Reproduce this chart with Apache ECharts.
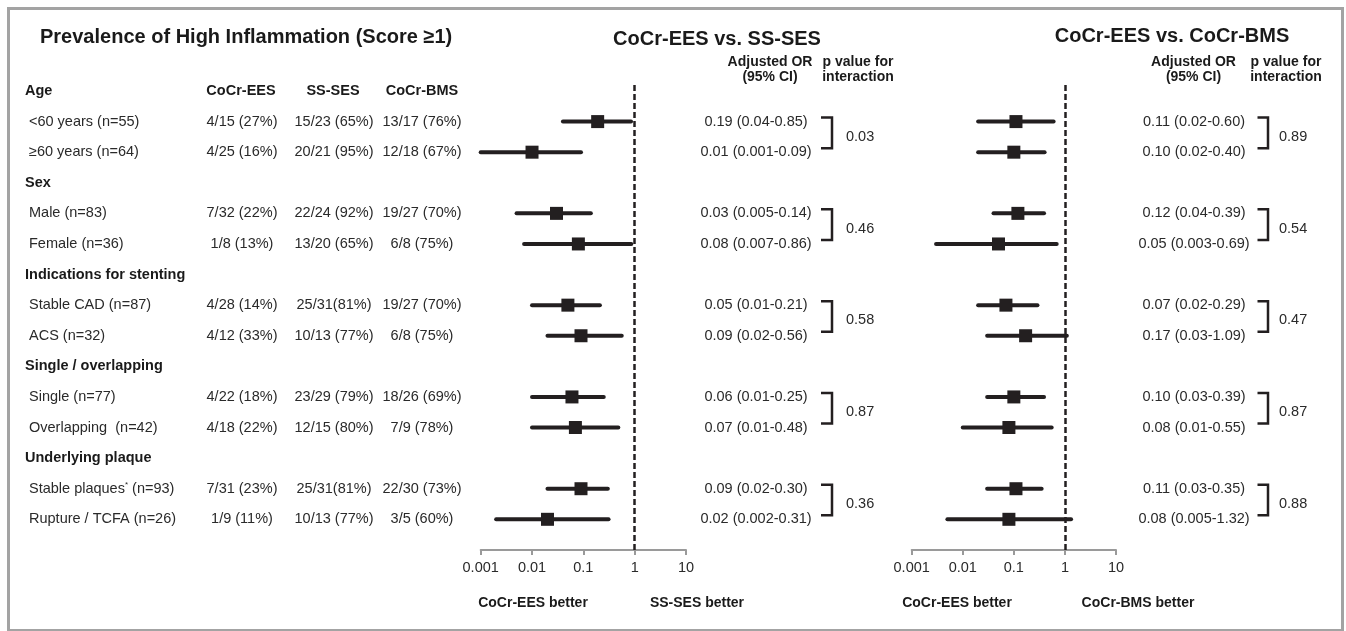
<!DOCTYPE html>
<html><head><meta charset="utf-8">
<script src="https://cdn.jsdelivr.net/npm/echarts@6/dist/echarts.min.js"></script>
<style>html,body{margin:0;padding:0;background:#fff}#c{width:1346px;height:631px}</style>
</head><body><div id="c"></div>
<script>
// ---------- data ----------
const groupHeaders = ['Age', 'Sex', 'Indications for stenting', 'Single / overlapping', 'Underlying plaque'];
const subgroups = ['<60 years (n=55)', '≥60 years (n=64)', 'Male (n=83)', 'Female (n=36)', 'Stable CAD (n=87)', 'ACS (n=32)', 'Single (n=77)', 'Overlapping  (n=42)', 'Stable plaques* (n=93)', 'Rupture / TCFA (n=26)'];
const columnHeaders = ['CoCr-EES', 'SS-SES', 'CoCr-BMS'];
const eesCounts = ['4/15 (27%)', '4/25 (16%)', '7/32 (22%)', '1/8 (13%)', '4/28 (14%)', '4/12 (33%)', '4/22 (18%)', '4/18 (22%)', '7/31 (23%)', '1/9 (11%)'];
const sesCounts = ['15/23 (65%)', '20/21 (95%)', '22/24 (92%)', '13/20 (65%)', '25/31(81%)', '10/13 (77%)', '23/29 (79%)', '12/15 (80%)', '25/31(81%)', '10/13 (77%)'];
const bmsCounts = ['13/17 (76%)', '12/18 (67%)', '19/27 (70%)', '6/8 (75%)', '19/27 (70%)', '6/8 (75%)', '18/26 (69%)', '7/9 (78%)', '22/30 (73%)', '3/5 (60%)'];

// CoCr-EES vs. SS-SES
const orSES = ['0.19', '0.01', '0.03', '0.08', '0.05', '0.09', '0.06', '0.07', '0.09', '0.02'];
const loSES = ['0.04', '0.001', '0.005', '0.007', '0.01', '0.02', '0.01', '0.01', '0.02', '0.002'];
const hiSES = ['0.85', '0.09', '0.14', '0.86', '0.21', '0.56', '0.25', '0.48', '0.30', '0.31'];
const pSES = ['0.03', '0.46', '0.58', '0.87', '0.36'];
// CoCr-EES vs. CoCr-BMS
const orBMS = ['0.11', '0.10', '0.12', '0.05', '0.07', '0.17', '0.10', '0.08', '0.11', '0.08'];
const loBMS = ['0.02', '0.02', '0.04', '0.003', '0.02', '0.03', '0.03', '0.01', '0.03', '0.005'];
const hiBMS = ['0.60', '0.40', '0.39', '0.69', '0.29', '1.09', '0.39', '0.55', '0.35', '1.32'];
const pBMS = ['0.89', '0.54', '0.47', '0.87', '0.88'];
const axisTicks = [0.001, 0.01, 0.1, 1, 10];

// ---------- layout ----------
const FF = "'Liberation Sans', Arial, Helvetica, sans-serif";
const DARK = '#231f20';
const TXT = '#2a2a2a';
const fNorm = '14.5px ' + FF;
const fBold = 'bold 14.5px ' + FF;
const GRID_TOP = 60.4, GRID_BOTTOM = 81.1, YMAX = 16;
const headerRow = g => 1 + 3 * g;
const subRow = k => 1 + 3 * Math.floor(k / 2) + 1 + (k % 2);

const yAxisBase = { type: 'value', inverse: true, min: 0, max: YMAX, show: false };

function textSeries(items, x, align, font, color) {
  return {
    type: 'custom', xAxisIndex: 0, yAxisIndex: 0, silent: true,
    data: items.map(it => [0, it.row]),
    encode: { x: 0, y: 1 },
    renderItem: function (params, api) {
      const p = api.coord([0, api.value(1)]);
      const t = items[params.dataIndex].text;
      const style = { text: t, font: font, fill: color, align: align, verticalAlign: 'middle' };
      if (t.indexOf('*') >= 0) {
        const parts = t.split('*');
        style.text = '{a|' + parts[0] + '}{s|*}{a|' + parts[1] + '}';
        style.rich = {
          a: { font: font, fill: color },
          s: { fontSize: 8, fontFamily: FF, fill: color, padding: [0, 0, 8, 0] }
        };
        delete style.font;
      }
      return { type: 'text', x: x, y: p[1], style: style };
    }
  };
}

function bracketSeries(x1, x2) {
  const groups = [0, 1, 2, 3, 4].map(g => [subRow(2 * g), subRow(2 * g + 1)]);
  return {
    type: 'custom', xAxisIndex: 0, yAxisIndex: 0, silent: true,
    data: groups.map(g => [0, g[0], g[1]]),
    encode: { x: 0, y: [1, 2] },
    renderItem: function (params, api) {
      const a = api.coord([0, api.value(1)])[1] - 4;
      const b = api.coord([0, api.value(2)])[1] - 4;
      return { type: 'polyline', shape: { points: [[x1, a], [x2, a], [x2, b], [x1, b]] },
        style: { stroke: DARK, lineWidth: 2.5, fill: null } };
    }
  };
}

function forestSeries(idx, or, lo, hi) {
  return [
    {
      type: 'custom', xAxisIndex: idx, yAxisIndex: idx, silent: true,
      data: or.map((v, k) => [subRow(k), Number(lo[k]), Number(hi[k])]),
      encode: { x: [1, 2], y: 0 },
      renderItem: function (params, api) {
        const a = api.coord([api.value(1), api.value(0)]);
        const b = api.coord([api.value(2), api.value(0)]);
        return { type: 'line', shape: { x1: a[0], y1: a[1], x2: b[0], y2: b[1] },
          style: { stroke: DARK, lineWidth: 4, lineCap: 'round' } };
      },
      z: 3
    },
    {
      type: 'scatter', xAxisIndex: idx, yAxisIndex: idx, silent: true,
      symbol: 'rect', symbolSize: 13,
      itemStyle: { color: DARK, opacity: 1 },
      data: or.map((v, k) => [Number(v), subRow(k)]),
      z: 4,
      markLine: {
        silent: true, symbol: ['none', 'none'], animation: false,
        label: { show: false },
        lineStyle: { type: [6, 3], width: 2.5, color: DARK, opacity: 1 },
        data: [[{ coord: [1, 0.8] }, { coord: [1, YMAX] }]]
      }
    }
  ];
}

const orText = (or, lo, hi) => or.map((v, k) => ({ row: subRow(k), text: v + ' (' + lo[k] + '-' + hi[k] + ')' }));
const pItems = p => p.map((v, g) => ({ row: (subRow(2 * g) + subRow(2 * g + 1)) / 2, text: v }));

const logAxis = (idx) => ({
  type: 'log', logBase: 10, min: axisTicks[0], max: axisTicks[axisTicks.length - 1], gridIndex: idx,
  position: 'bottom',
  axisLine: { show: true, onZero: false, lineStyle: { color: '#9a9a9a', width: 2 } },
  axisTick: { show: true, length: 5, lineStyle: { color: '#9a9a9a', width: 2 } },
  splitLine: { show: false },
  axisLabel: { fontSize: 14.5, fontFamily: FF, color: TXT, margin: 11,
    formatter: v => String(+Number(v).toPrecision(3)) }
});

const series = [
  textSeries(groupHeaders.map((t, g) => ({ row: headerRow(g), text: t })), 25, 'left', fBold, '#1a1a1a'),
  textSeries(subgroups.map((t, k) => ({ row: subRow(k), text: t })), 29, 'left', fNorm, TXT),
  textSeries([{ row: headerRow(0), text: columnHeaders[0] }], 241, 'center', fBold, '#1a1a1a'),
  textSeries([{ row: headerRow(0), text: columnHeaders[1] }], 333, 'center', fBold, '#1a1a1a'),
  textSeries([{ row: headerRow(0), text: columnHeaders[2] }], 422, 'center', fBold, '#1a1a1a'),
  textSeries(eesCounts.map((t, k) => ({ row: subRow(k), text: t })), 242, 'center', fNorm, TXT),
  textSeries(sesCounts.map((t, k) => ({ row: subRow(k), text: t })), 334, 'center', fNorm, TXT),
  textSeries(bmsCounts.map((t, k) => ({ row: subRow(k), text: t })), 422, 'center', fNorm, TXT),
  textSeries(orText(orSES, loSES, hiSES), 756, 'center', fNorm, TXT),
  textSeries(orText(orBMS, loBMS, hiBMS), 1194, 'center', fNorm, TXT),
  textSeries(pItems(pSES), 846, 'left', fNorm, TXT),
  textSeries(pItems(pBMS), 1279, 'left', fNorm, TXT),
  bracketSeries(821, 832),
  bracketSeries(1257.5, 1268),
  ...forestSeries(1, orSES, loSES, hiSES),
  ...forestSeries(2, orBMS, loBMS, hiBMS)
];

const gtext = (x, y, text, font, align) => ({
  type: 'text', x: x, y: y, silent: true,
  style: { text: text, font: font, fill: '#1a1a1a', align: align || 'center', verticalAlign: 'middle' }
});
const fTitle = 'bold 20px ' + FF;
const fHead = 'bold 14px ' + FF;

const option = {
  animation: false,
  backgroundColor: '#ffffff',
  grid: [
    { left: 0, right: 0, top: GRID_TOP, bottom: GRID_BOTTOM },
    { left: 480.7, width: 205.3, top: GRID_TOP, bottom: GRID_BOTTOM },
    { left: 911.7, width: 204.3, top: GRID_TOP, bottom: GRID_BOTTOM }
  ],
  xAxis: [
    { type: 'value', min: 0, max: 1, show: false, gridIndex: 0 },
    logAxis(1),
    logAxis(2)
  ],
  yAxis: [
    Object.assign({ gridIndex: 0 }, yAxisBase),
    Object.assign({ gridIndex: 1 }, yAxisBase),
    Object.assign({ gridIndex: 2 }, yAxisBase)
  ],
  graphic: [
    { type: 'rect', silent: true, shape: { x: 8.5, y: 8.5, width: 1334, height: 622 },
      style: { stroke: '#a3a3a3', lineWidth: 3, fill: null }, z: -1 },
    gtext(40, 37, 'Prevalence of High Inflammation (Score ≥1)', fTitle, 'left'),
    gtext(717, 39, 'CoCr-EES vs. SS-SES', fTitle),
    gtext(1172, 36, 'CoCr-EES vs. CoCr-BMS', fTitle),
    gtext(770, 62, 'Adjusted OR', fHead),
    gtext(770, 77.5, '(95% CI)', fHead),
    gtext(858, 62, 'p value for', fHead),
    gtext(858, 77.5, 'interaction', fHead),
    gtext(1193.5, 62, 'Adjusted OR', fHead),
    gtext(1193.5, 77.5, '(95% CI)', fHead),
    gtext(1286, 62, 'p value for', fHead),
    gtext(1286, 77.5, 'interaction', fHead),
    gtext(533, 603, 'CoCr-EES better', fHead),
    gtext(697, 603, 'SS-SES better', fHead),
    gtext(957, 603, 'CoCr-EES better', fHead),
    gtext(1138, 603, 'CoCr-BMS better', fHead)
  ],
  series: series
};

const chart = echarts.init(document.getElementById('c'), null, { renderer: 'canvas' });
chart.setOption(option);
</script>
</body></html>
